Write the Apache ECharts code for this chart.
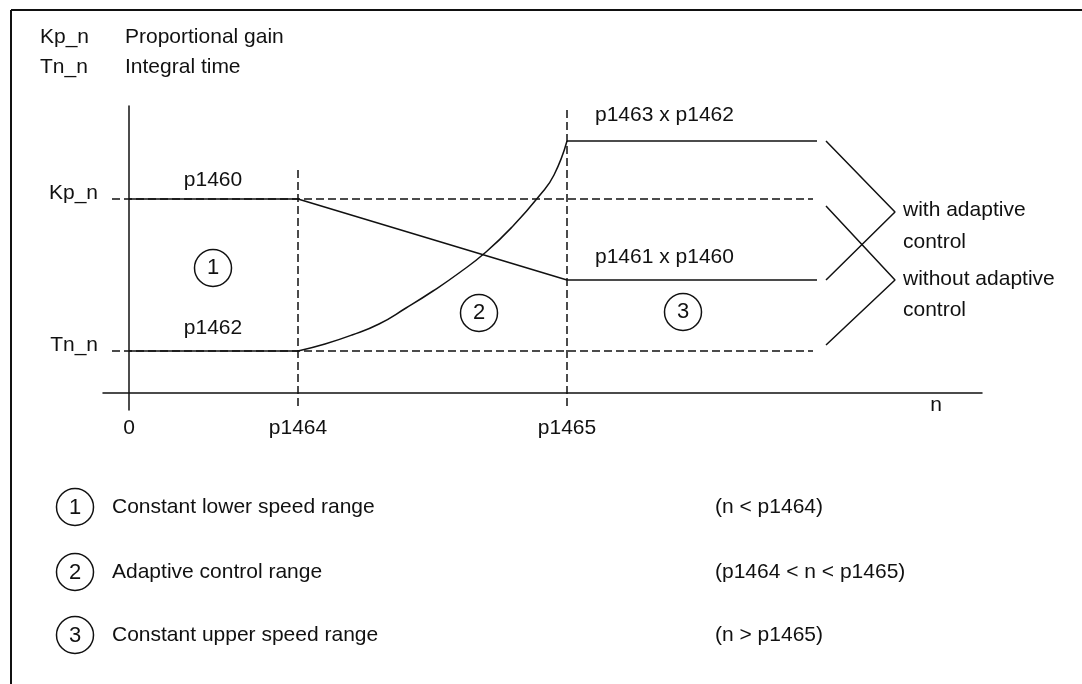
<!DOCTYPE html>
<html>
<head>
<meta charset="utf-8">
<title>Kp_n / Tn_n adaptive control</title>
<script src="https://cdn.jsdelivr.net/npm/echarts@6/dist/echarts.min.js"></script>
<style>
  html, body { margin: 0; padding: 0; background: #fff; }
  #main { width: 1082px; height: 684px; }
</style>
</head>
<body>
<div id="main"></div>
<script>
// 数据 (schematic units)
var xTicks = [0, 169, 438];
var xTickLabels = ['0', 'p1464', 'p1465'];

// solid curves
var kpAdaptive = [[0, 194], [169, 194], [438, 113], [688, 113]];
var tnFlatLow = [[0, 42], [169, 42]];
var tnCurve = [[169, 42], [196, 49], [223, 58], [250, 69], [277, 85], [304, 102], [330, 120],
               [357, 141], [384, 167], [411, 198], [425, 218], [438, 252]];
var tnFlatHigh = [[438, 252], [688, 252]];

// dashed reference lines
var kpFixed = [[-17, 194], [684, 194]];
var tnFixed = [[-17, 42], [684, 42]];
var p1464Line = [[169, -13], [169, 223]];
var p1465Line = [[438, -13], [438, 287]];

// brackets
var withBracket = [[697, 252], [766, 181], [697, 113]];
var withoutBracket = [[697, 187], [766, 113], [697, 48]];

// text annotations [x, y, text, align]
var notes = [
    [-31, 200, 'Kp_n', 'right'],
    [-31, 48, 'Tn_n', 'right'],
    [84, 213, 'p1460', 'center'],
    [84, 65, 'p1462', 'center'],
    [466, 278, 'p1463 x p1462', 'left'],
    [466, 136, 'p1461 x p1460', 'left'],
    [774, 183, 'with adaptive', 'left'],
    [774, 151, 'control', 'left'],
    [774, 114, 'without adaptive', 'left'],
    [774, 83, 'control', 'left'],
    [807, -12, 'n', 'center']
];
var regions = [[84, 125, '1'], [350, 80, '2'], [554, 81, '3']];

var legendRows = [
    ['1', 'Constant lower speed range', '(n < p1464)'],
    ['2', 'Adaptive control range', '(p1464 < n < p1465)'],
    ['3', 'Constant upper speed range', '(n > p1465)']
];

var FONT = '"Liberation Sans", Arial, sans-serif';
var INK = '#111';

document.addEventListener('DOMContentLoaded', function () {
    var myChart = echarts.init(document.getElementById('main'));

    function solid(data, smooth) {
        return { type: 'line', data: data, symbol: 'none', smooth: smooth || false,
            silent: true, clip: false, lineStyle: { color: INK, width: 1.5 } };
    }
    function dashed(data) {
        return { type: 'line', data: data, symbol: 'none', silent: true, clip: false,
            lineStyle: { color: INK, width: 1.5, type: [8, 4] } };
    }

    var graphics = [
        { type: 'line', shape: { x1: 11, y1: 10, x2: 1082, y2: 10 }, style: { stroke: '#111', lineWidth: 2 } },
        { type: 'line', shape: { x1: 11, y1: 10, x2: 11, y2: 684 }, style: { stroke: '#111', lineWidth: 2 } },
        { type: 'text', left: 40, top: 27, style: { text: 'Kp_n', font: '21px ' + FONT, fill: INK } },
        { type: 'text', left: 125, top: 27, style: { text: 'Proportional gain', font: '21px ' + FONT, fill: INK } },
        { type: 'text', left: 40, top: 57, style: { text: 'Tn_n', font: '21px ' + FONT, fill: INK } },
        { type: 'text', left: 125, top: 57, style: { text: 'Integral time', font: '21px ' + FONT, fill: INK } }
    ];
    var rowY = [507, 572, 635];
    legendRows.forEach(function (row, i) {
        graphics.push({ type: 'circle', shape: { cx: 75, cy: rowY[i], r: 18.5 }, style: { fill: 'none', stroke: INK, lineWidth: 1.5 } });
        graphics.push({ type: 'text', x: 75, y: rowY[i] + 1, style: { text: row[0], font: '22px ' + FONT, fill: INK, align: 'center', verticalAlign: 'middle' } });
        graphics.push({ type: 'text', x: 112, y: rowY[i], style: { text: row[1], font: '21px ' + FONT, fill: INK, verticalAlign: 'middle' } });
        graphics.push({ type: 'text', x: 715, y: rowY[i], style: { text: row[2], font: '21px ' + FONT, fill: INK, verticalAlign: 'middle' } });
    });

    var option = {
        animation: false,
        backgroundColor: '#fff',
        grid: { left: 103, right: 100, top: 106, bottom: 274 },
        xAxis: {
            type: 'value', min: -26, max: 853,
            axisLine: { onZero: true, lineStyle: { color: INK, width: 1.5 } },
            axisTick: { show: false },
            splitLine: { show: false },
            axisLabel: {
                customValues: xTicks, margin: 8, color: INK, fontSize: 21, fontFamily: FONT,
                formatter: function (v) { return xTickLabels[xTicks.indexOf(v)]; }
            }
        },
        yAxis: {
            type: 'value', min: -17, max: 287,
            axisLine: { onZero: true, lineStyle: { color: INK, width: 1.5 } },
            axisTick: { show: false },
            splitLine: { show: false },
            axisLabel: { show: false }
        },
        series: [
            dashed(kpFixed), dashed(tnFixed), dashed(p1464Line), dashed(p1465Line),
            solid(kpAdaptive), solid(tnFlatLow), solid(tnCurve, 0.5), solid(tnFlatHigh),
            solid(withBracket), solid(withoutBracket),
            {
                type: 'scatter', silent: true, clip: false, symbolSize: 0,
                itemStyle: { opacity: 1 },
                data: notes.map(function (n) { return { value: [n[0], n[1]], label: { align: n[3] } }; }),
                label: {
                    show: true, position: 'inside', color: INK, fontSize: 21, fontFamily: FONT,
                    formatter: function (p) { return notes[p.dataIndex][2]; }
                }
            },
            {
                type: 'scatter', silent: true, clip: false, symbol: 'circle', symbolSize: 37,
                data: regions.map(function (r) { return [r[0], r[1]]; }),
                itemStyle: { color: 'rgba(0,0,0,0)', borderColor: INK, borderWidth: 1.5, opacity: 1 },
                label: {
                    show: true, position: 'inside', color: INK, fontSize: 22, fontFamily: FONT,
                    formatter: function (p) { return regions[p.dataIndex][2]; }
                }
            }
        ],
        graphic: graphics
    };

    myChart.setOption(option);
});
</script>
</body>
</html>
